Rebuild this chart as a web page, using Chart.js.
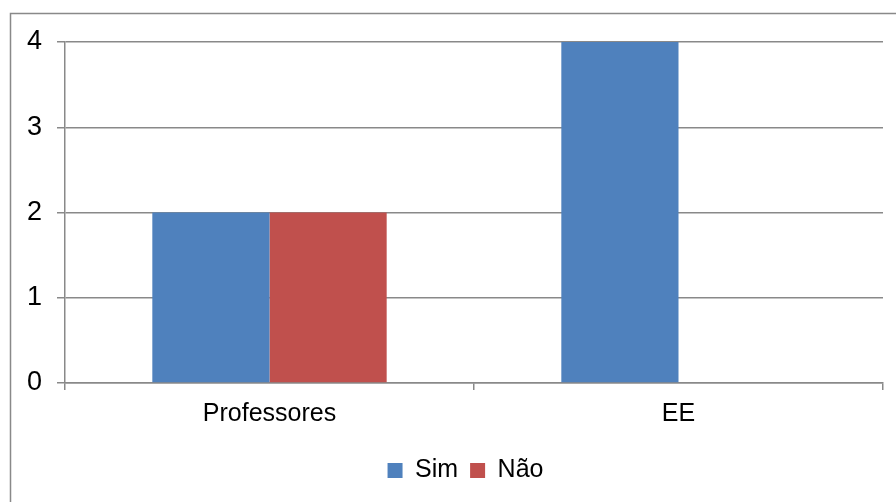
<!DOCTYPE html>
<html>
<head>
<meta charset="utf-8">
<script src="https://cdn.jsdelivr.net/npm/chart.js@4/dist/chart.umd.min.js"></script>
<style>
  html, body { margin: 0; padding: 0; background: #fff; }
  #wrap { width: 896px; height: 502px; position: relative; }
</style>
</head>
<body>
<div id="wrap"><canvas id="chart"></canvas></div>
<script>
// Chart data
const categories = ['Professores', 'EE'];
const simValues = [2, 4];
const naoValues = [2, 0];
const seriesLabels = ['Sim', 'Não'];

const gridColor = '#898989';
const fontFamily = 'Arial, "Liberation Sans", sans-serif';
const fontSpec = { family: fontFamily, size: 25 };

// Outer frame (only left and top edges are visible in the picture)
const framePlugin = {
    id: 'frame',
    afterLayout(chart) {
        // legend sits a bit right of the canvas centre in the original
        if (chart.legend) {
            chart.legend.left += 24;
            chart.legend.right += 24;
        }
    },
    beforeDraw(chart) {
        const ctx = chart.ctx;
        ctx.save();
        ctx.fillStyle = '#fff';
        ctx.fillRect(0, 0, chart.width, chart.height);
        ctx.strokeStyle = gridColor;
        ctx.lineWidth = 1.5;
        ctx.beginPath();
        ctx.moveTo(10.5, chart.height);
        ctx.lineTo(10.5, 13.5);
        ctx.lineTo(chart.width, 13.5);
        ctx.stroke();
        ctx.restore();
    }
};

new Chart(document.getElementById('chart'), {
    type: 'bar',
    data: {
        labels: categories,
        datasets: [
            { label: seriesLabels[0], data: simValues, backgroundColor: '#4F81BD' },
            { label: seriesLabels[1], data: naoValues, backgroundColor: '#C0504D' }
        ]
    },
    options: {
        responsive: true,
        maintainAspectRatio: false,
        animation: false,
        layout: { padding: { left: 0, top: 42, right: 13, bottom: 9 } },
        datasets: { bar: { barPercentage: 1, categoryPercentage: 0.573 } },
        plugins: {
            legend: {
                position: 'bottom',
                labels: {
                    color: '#000',
                    font: fontSpec,
                    boxWidth: 15,
                    boxHeight: 15,
                    padding: 12
                }
            },
            tooltip: { enabled: false }
        },
        scales: {
            x: {
                afterFit(scale) { scale.height = 63; },
                grid: {
                    offset: true,
                    drawOnChartArea: false,
                    drawTicks: true,
                    tickLength: 7,
                    color: gridColor,
                    lineWidth: 1.5
                },
                border: { display: true, color: gridColor, width: 1.5 },
                ticks: { color: '#000', font: fontSpec, padding: 9, maxRotation: 0 }
            },
            y: {
                min: 0,
                max: 4,
                afterFit(scale) { scale.width = 65; },
                grid: {
                    color: gridColor,
                    lineWidth: 1.5,
                    tickLength: 8
                },
                border: { display: true, color: gridColor, width: 1.5 },
                ticks: { color: '#000', font: { family: fontFamily, size: 27 }, stepSize: 1, padding: 15 }
            }
        }
    },
    plugins: [framePlugin]
});
</script>
</body>
</html>
